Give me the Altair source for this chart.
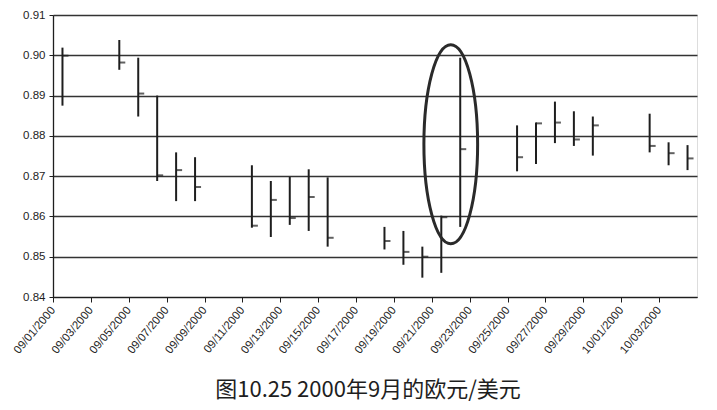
import altair as alt
import pandas as pd

dates = ["2000-09-01", "2000-09-04", "2000-09-05", "2000-09-06", "2000-09-07", "2000-09-08",
         "2000-09-11", "2000-09-12", "2000-09-13", "2000-09-14", "2000-09-15",
         "2000-09-18", "2000-09-19", "2000-09-20", "2000-09-21", "2000-09-22",
         "2000-09-25", "2000-09-26", "2000-09-27", "2000-09-28", "2000-09-29",
         "2000-10-02", "2000-10-03", "2000-10-04"]
high = [0.9019, 0.9038, 0.8994, 0.8900, 0.8759, 0.8747,
        0.8727, 0.8688, 0.8698, 0.8717, 0.8697,
        0.8574, 0.8564, 0.8525, 0.8602, 0.8994,
        0.8826, 0.8833, 0.8885, 0.8861, 0.8848,
        0.8855, 0.8784, 0.8777]
low = [0.8875, 0.8964, 0.8848, 0.8688, 0.8638, 0.8638,
       0.8572, 0.8549, 0.8579, 0.8564, 0.8525,
       0.8518, 0.8480, 0.8448, 0.8460, 0.8574,
       0.8712, 0.8730, 0.8782, 0.8775, 0.8751,
       0.8759, 0.8727, 0.8715]
close = [0.8999, 0.8982, 0.8905, 0.8702, 0.8715, 0.8673,
         0.8577, 0.8641, 0.8596, 0.8648, 0.8547,
         0.8539, 0.8512, 0.8500, 0.8598, 0.8767,
         0.8747, 0.8831, 0.8833, 0.8791, 0.8826,
         0.8775, 0.8757, 0.8744]

x_tick_dates = ["2000-09-01", "2000-09-03", "2000-09-05", "2000-09-07", "2000-09-09",
                "2000-09-11", "2000-09-13", "2000-09-15", "2000-09-17", "2000-09-19",
                "2000-09-21", "2000-09-23", "2000-09-25", "2000-09-27", "2000-09-29",
                "2000-10-01", "2000-10-03"]
y_ticks = [0.84, 0.85, 0.86, 0.87, 0.88, 0.89, 0.90, 0.91]

highlight_date = ["2000-09-22T00:00:00"]
highlight_value = [0.8779]

title_text = "图10.25 2000年9月的欧元/美元"

df = pd.DataFrame({"date": dates, "high": high, "low": low, "close": close})
df["mid"] = df["date"] + "T12:00:00"
hl = pd.DataFrame({"date": highlight_date, "value": highlight_value})

ink = "#1e1e1e"
latin = "Liberation Sans, Arial, sans-serif"
x_scale = alt.Scale(domain=["2000-09-01T00:00:00", "2000-10-05T00:00:00"])
y_scale = alt.Scale(domain=[0.84, 0.91], nice=False, zero=False)

x_axis = alt.Axis(values=[d + "T00:00:00" for d in x_tick_dates], format="%m/%d/%Y",
                  labelAngle=-50, labelFontSize=11.5, labelColor=ink, title=None,
                  grid=False, tickColor=ink, tickSize=5, domainColor=ink,
                  labelFont=latin, labelPadding=6, labelOverlap=False,
                  labelAlign="right", labelBaseline="middle")
y_axis = alt.Axis(values=y_ticks, format=".2f", labelFontSize=11.5, labelColor=ink,
                  title=None, grid=True, gridColor="#333333", gridWidth=1.3,
                  tickColor=ink, tickSize=4, domainColor=ink, domainWidth=1.3,
                  labelFont=latin, labelPadding=4)

base = alt.Chart(df)

bars = base.mark_rule(color=ink, strokeWidth=2).encode(
    x=alt.X("mid:T", scale=x_scale, axis=x_axis),
    y=alt.Y("low:Q", scale=y_scale, axis=y_axis),
    y2="high:Q",
)

close_ticks = base.mark_tick(color=ink, orient="horizontal", size=6, thickness=2, xOffset=3).encode(
    x=alt.X("mid:T", scale=x_scale),
    y=alt.Y("close:Q", scale=y_scale),
)

ellipse = alt.Chart(hl).mark_point(
    shape="M0,-1A0.27,1,0,1,0,0,1A0.27,1,0,1,0,0,-1Z",
    filled=False, stroke="#2a2a2a", strokeWidth=3, size=39601, opacity=1,
).encode(
    x=alt.X("date:T", scale=x_scale),
    y=alt.Y("value:Q", scale=y_scale),
)

chart = alt.layer(bars, close_ticks, ellipse).properties(
    width=644, height=282,
    autosize=alt.AutoSizeParams(type="none"),
    padding={"left": 45, "top": 7, "right": 12, "bottom": 108},
    title=alt.TitleParams(text=title_text, orient="bottom", anchor="middle",
                          font="Noto Sans CJK SC", fontSize=22, fontWeight="normal",
                          color=ink, offset=24, dx=-7),
).configure_view(stroke=ink, strokeWidth=1.5).configure(background="white")

chart.save("out.html", embed_options={"renderer": "svg", "actions": False})
